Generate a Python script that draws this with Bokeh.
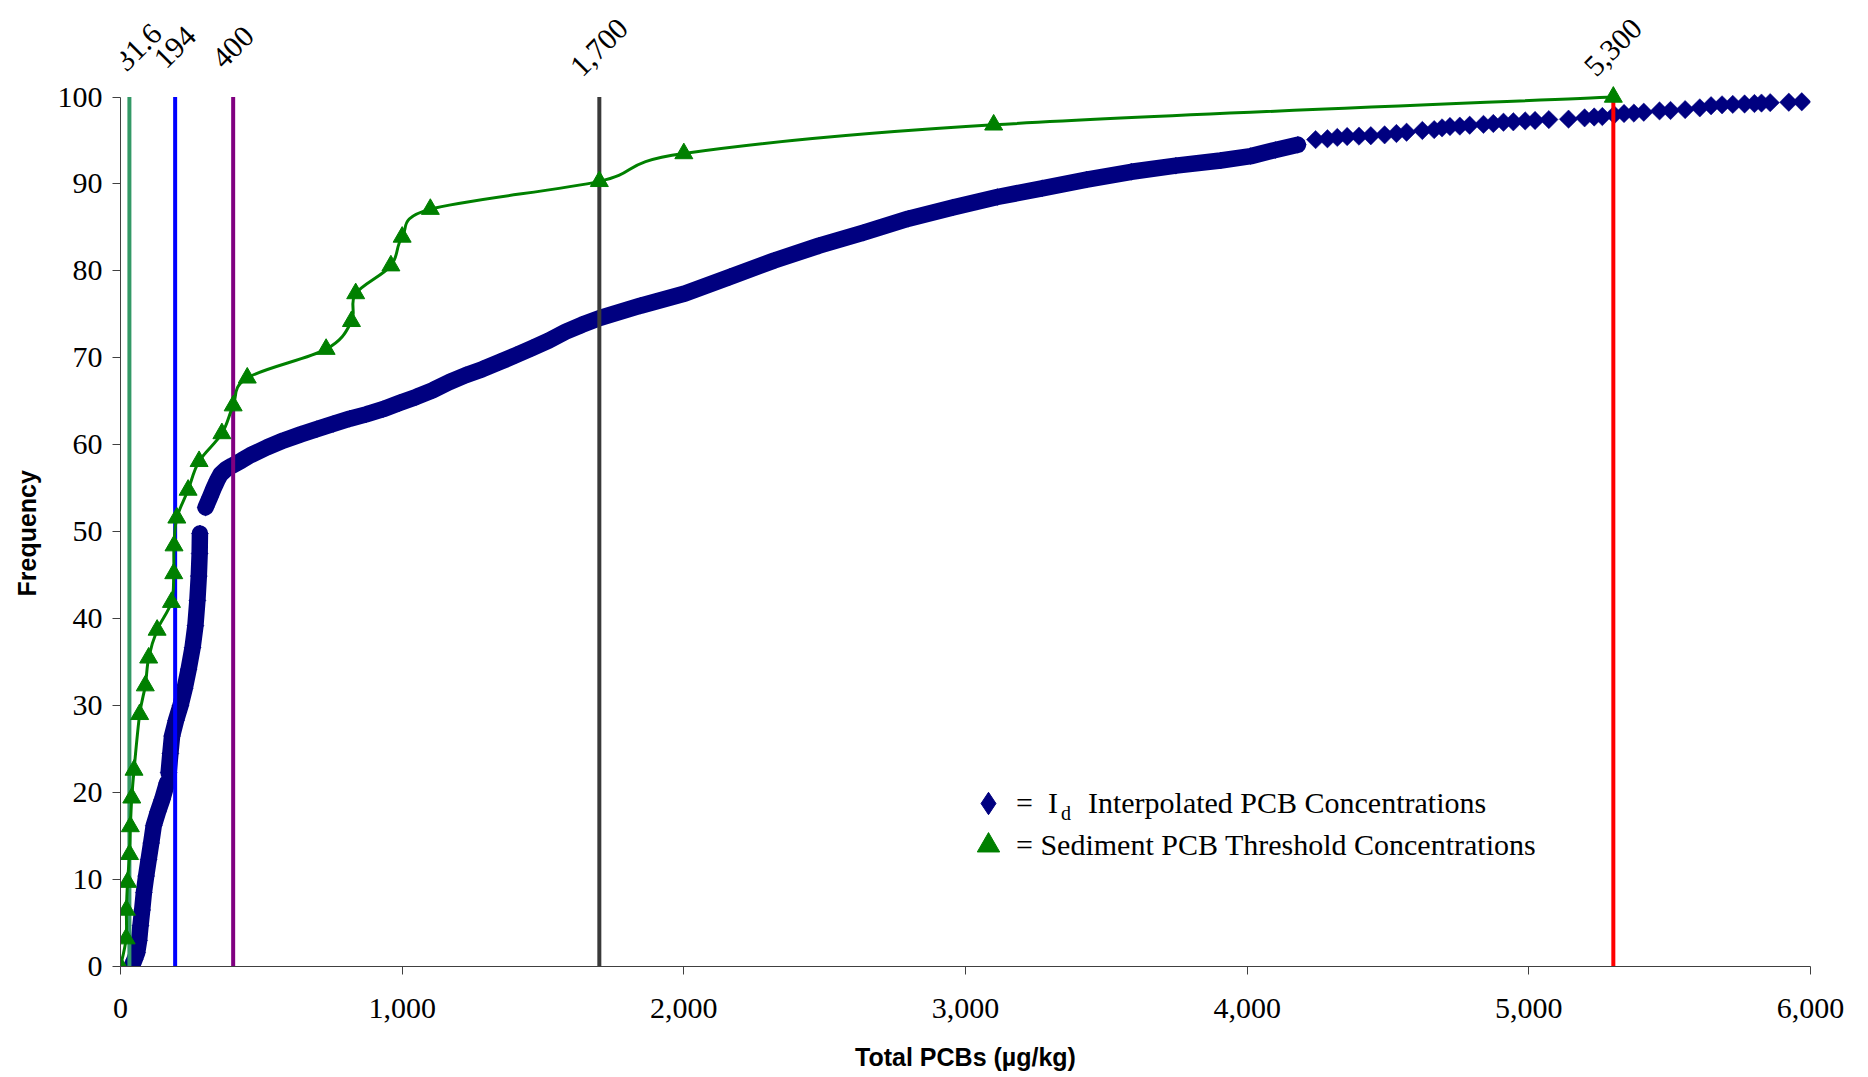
import numpy as np
from bokeh.plotting import figure
from bokeh.models import Range1d, Label, Legend, LegendItem, FixedTicker, NumeralTickFormatter, Title
from bokeh.embed import file_html
from bokeh.resources import INLINE

# ---------------- data ----------------
# Sediment PCB threshold concentrations (cumulative frequency, %)
thr_x = [0, 20, 21, 25, 32, 35, 40, 48, 68, 88, 100, 130, 181, 189, 190, 200,
         240, 279, 360, 400, 450, 730, 820, 835, 960, 1000, 1100, 1700, 2000, 3100, 5300]
thr_y = [0, 3.2, 6.5, 9.7, 12.9, 16.1, 19.4, 22.6, 29.0, 32.3, 35.5, 38.7, 41.9, 45.2, 48.4, 51.6,
         54.8, 58.1, 61.3, 64.5, 67.7, 71.0, 74.2, 77.4, 80.6, 83.9, 87.1, 90.3, 93.5, 96.8, 100]

# Interpolated PCB concentrations - dense part, read along the band (three runs)
dense1_x = [42, 50, 59, 66, 71, 77, 83, 91, 100, 109, 118, 133, 148, 165]
dense1_y = [0.2, 0.8, 1.6, 3.0, 4.7, 6.5, 8.5, 10.4, 12.3, 14.2, 16.2, 17.8, 19.2, 21.1]
dense2_x = [171, 177, 183, 197, 213, 228, 242, 256, 266, 273, 278, 281, 282]
dense2_y = [22.3, 24.5, 26.5, 28.3, 30.0, 32.0, 34.2, 36.7, 39.2, 42.1, 44.9, 47.5, 49.8]
dense3_x = [302, 318, 332, 345, 355, 375, 396, 430, 461, 520, 579, 640, 697, 755, 814, 872,
            932, 990, 1050, 1110, 1167, 1225, 1285, 1345, 1403, 1460, 1521, 1580, 1638, 1703,
            1846, 2004, 2163, 2321, 2480, 2638, 2797, 2955, 3113, 3272, 3430, 3589, 3747, 3906,
            4013, 4100, 4180]
dense3_y = [52.8, 54.0, 55.1, 56.0, 56.6, 57.2, 57.6, 58.2, 58.8, 59.7, 60.5, 61.2, 61.8, 62.4, 63.0, 63.5,
            64.1, 64.8, 65.5, 66.3, 67.2, 68.0, 68.7, 69.5, 70.3, 71.1, 72.0, 73.0, 73.8, 74.6,
            76.0, 77.4, 79.3, 81.2, 82.9, 84.4, 86.0, 87.3, 88.5, 89.5, 90.5, 91.4, 92.1, 92.7,
            93.2, 93.9, 94.5]
# Interpolated PCB concentrations - separated points at the high end
sparse_x = [4243, 4285, 4320, 4355, 4397, 4439, 4488, 4530, 4566, 4622, 4664, 4692, 4720, 4755,
            4790, 4839, 4874, 4910, 4945, 4987, 5022, 5071, 5141, 5198, 5232, 5261, 5303, 5338,
            5373, 5408, 5464, 5503, 5555, 5607, 5647, 5686, 5724, 5766, 5801, 5826, 5857, 5923, 5969]
sparse_y = [95.1, 95.2, 95.35, 95.45, 95.5, 95.55, 95.65, 95.8, 95.95, 96.15, 96.25, 96.45, 96.6, 96.65,
            96.75, 96.85, 96.95, 97.1, 97.15, 97.25, 97.3, 97.4, 97.45, 97.6, 97.7, 97.75, 97.95, 98.1,
            98.15, 98.25, 98.4, 98.45, 98.55, 98.75, 99.0, 99.1, 99.15, 99.2, 99.25, 99.3, 99.35, 99.4, 99.45]

# Reference thresholds (vertical lines)
ref_vals = [31.6, 194, 400, 1700, 5300]
ref_labels = ["31.6", "194", "400", "1,700", "5,300"]
ref_colors = ["#339966", "#0000ff", "#800080", "#3a3a3a", "#ff0000"]
ref_label_dx = [9, 0, 0, 0, 0]   # px nudge so the first label is not clipped at the axis

x_ticks = [0, 1000, 2000, 3000, 4000, 5000, 6000]
y_ticks = [0, 10, 20, 30, 40, 50, 60, 70, 80, 90, 100]

NAVY = "#000080"
GREEN = "#008000"
SERIF = "Liberation Serif"
SANS = "Liberation Sans"

# ---------------- figure ----------------
# 100 % spans 869.5 px; the frame reaches the top of the canvas to hold the rotated labels
FRAME_H = 966
Y_TOP = y_ticks[-1] * FRAME_H / 869.5
p = figure(width=1850, height=1076, output_backend="svg", toolbar_location=None,
           x_range=Range1d(x_ticks[0], x_ticks[-1]), y_range=Range1d(y_ticks[0], Y_TOP),
           min_border_left=119, min_border_right=40, min_border_top=0, min_border_bottom=110,
           background_fill_color="white", border_fill_color="white")
p.outline_line_color = None
p.xgrid.visible = False
p.ygrid.visible = False

for ax in (p.xaxis[0], p.yaxis[0]):
    ax.axis_line_color = "#404040"
    ax.axis_line_width = 1
    ax.major_tick_line_color = "#404040"
    ax.major_tick_in = 0
    ax.major_tick_out = 8
    ax.minor_tick_line_color = None
    ax.major_label_text_font = SERIF
    ax.major_label_text_font_size = "30px"
    ax.major_label_text_color = "black"
    ax.axis_label_text_font = SANS
    ax.axis_label_text_font_style = "bold"
    ax.axis_label_text_font_size = "25px"
    ax.axis_label_text_color = "black"

p.yaxis.bounds = (y_ticks[0], y_ticks[-1])
p.xaxis.ticker = FixedTicker(ticks=x_ticks)
p.yaxis.ticker = FixedTicker(ticks=y_ticks)
p.xaxis.formatter = NumeralTickFormatter(format="0,0")
p.xaxis.axis_label = "Total PCBs (µg/kg)"
p.xaxis.major_label_standoff = 24
p.xaxis.axis_label_standoff = 22
p.yaxis.major_label_standoff = 10

# y-axis title, centred on the 0-100 part of the axis
p.add_layout(Title(text="Frequency", align="left", offset=370, vertical_align="top", standoff=24,
                   text_font=SANS, text_font_style="bold", text_font_size="25px",
                   text_color="black"), "left")

# interpolated concentrations: dense band of overlapping diamonds
for dx, dy in ((dense1_x, dense1_y), (dense2_x, dense2_y), (dense3_x, dense3_y)):
    p.line(dx, dy, line_color=NAVY, line_width=16.5, line_join="round", line_cap="round")
    p.scatter(dx, dy, marker="square", angle=np.pi / 4, size=12,
              fill_color=NAVY, line_color=NAVY, line_width=0.5)
# diamond renderer used for the legend swatch (hidden under the square diamonds)
r_diam = p.scatter(sparse_x, sparse_y, marker="diamond", size=15, fill_color=NAVY, line_color=NAVY)
p.scatter(sparse_x, sparse_y, marker="square", angle=np.pi / 4, size=13,
          fill_color=NAVY, line_color=NAVY, line_width=0.5)

# reference threshold lines
p.segment(x0=ref_vals, y0=[y_ticks[0]] * len(ref_vals), x1=ref_vals, y1=[y_ticks[-1]] * len(ref_vals),
          line_color=ref_colors, line_width=4)

# smoothed threshold line (Excel-style bezier smoothing)
tx = np.array(thr_x, dtype=float)
ty = np.array(thr_y, dtype=float)
n = len(tx)
px = np.concatenate([[tx[0]], tx, [tx[-1]]])
py = np.concatenate([[ty[0]], ty, [ty[-1]]])
cx0 = px[1:n] + (px[2:n + 1] - px[0:n - 1]) / 6.0
cy0 = py[1:n] + (py[2:n + 1] - py[0:n - 1]) / 6.0
cx1 = px[2:n + 1] - (px[3:n + 2] - px[1:n]) / 6.0
cy1 = py[2:n + 1] - (py[3:n + 2] - py[1:n]) / 6.0
p.bezier(x0=tx[:-1], y0=ty[:-1], x1=tx[1:], y1=ty[1:], cx0=cx0, cy0=cy0, cx1=cx1, cy1=cy1,
         line_color=GREEN, line_width=3)
r_tri = p.scatter(thr_x, thr_y, marker="triangle", size=18, fill_color=GREEN, line_color=GREEN)

# labels above the reference lines
for v, t, dxo in zip(ref_vals, ref_labels, ref_label_dx):
    p.add_layout(Label(x=v, y=105.7, x_offset=dxo, text=t, angle=np.pi / 4, text_align="center",
                       text_baseline="middle", text_font=SERIF, text_font_size="30px",
                       text_color="black"))

# legend (one box per row so that each swatch can be large)
NB = "\u00a0"
legend_rows = [
    ("=" + NB * 2 + "I" + NB * 4 + "Interpolated PCB Concentrations", r_diam, (840, 130)),
    ("= Sediment PCB Threshold Concentrations", r_tri, (840, 88)),
]
for label, rend, loc in legend_rows:
    lg = Legend(items=[LegendItem(label=label, renderers=[rend])], location=loc)
    lg.border_line_color = None
    lg.background_fill_alpha = 0
    lg.padding = 0
    lg.margin = 0
    lg.spacing = 0
    lg.glyph_width = 56
    lg.glyph_height = 66
    lg.label_standoff = 0
    lg.label_text_font = SERIF
    lg.label_text_font_size = "30px"
    lg.label_text_color = "black"
    p.add_layout(lg)

# subscript "d" of I_d in the legend
p.add_layout(Label(x=3339, y=17.7, text="d", text_font=SERIF, text_font_size="20px",
                   text_baseline="alphabetic", text_align="left", text_color="black"))

open("out.html", "w").write(file_html(p, INLINE))
